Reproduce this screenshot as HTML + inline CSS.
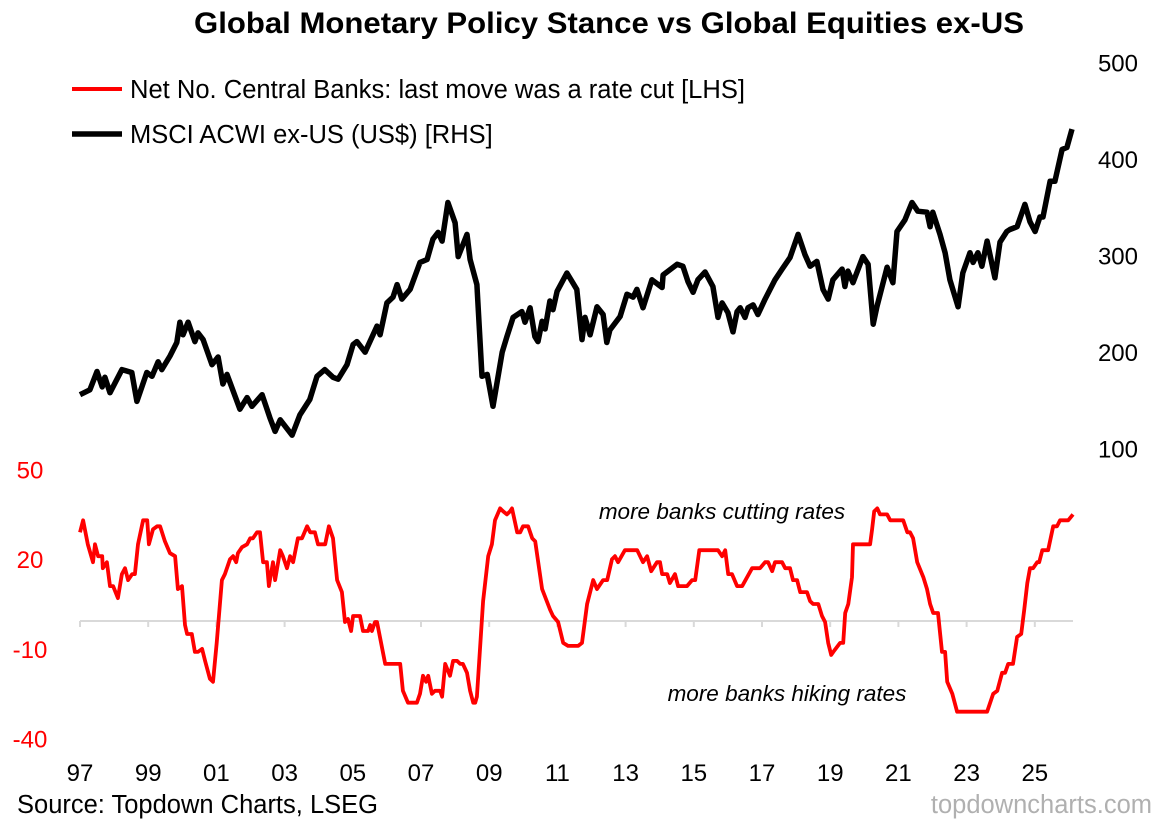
<!DOCTYPE html>
<html><head><meta charset="utf-8">
<style>
html,body{margin:0;padding:0;background:#fff;}
svg{display:block;font-family:"Liberation Sans",Arial,sans-serif;}
</style></head>
<body>
<svg id="chart" width="1170" height="825" viewBox="0 0 1170 825">
<text x="609" y="33" text-anchor="middle" font-size="30" font-weight="bold" textLength="830" lengthAdjust="spacingAndGlyphs">Global Monetary Policy Stance vs Global Equities ex-US</text>
<g>
<line x1="72" y1="89" x2="122" y2="89" stroke="#ff0000" stroke-width="4"/>
<text x="130" y="98" font-size="25.5" textLength="615" lengthAdjust="spacingAndGlyphs">Net No. Central Banks: last move was a rate cut [LHS]</text>
<line x1="72" y1="134" x2="122" y2="134" stroke="#000" stroke-width="5.5"/>
<text x="130" y="143" font-size="25.5">MSCI ACWI ex-US (US$) [RHS]</text>
</g>
<g id="rAxis"></g>
<g id="lAxis"></g>
<g id="xAxis"></g>
<g id="series"></g>
<text x="722" y="519" text-anchor="middle" font-size="22.5" font-style="italic">more banks cutting rates</text>
<text x="787" y="701" text-anchor="middle" font-size="22.5" font-style="italic">more banks hiking rates</text>
<text x="17" y="813" font-size="25.5">Source: Topdown Charts, LSEG</text>
<text x="1152" y="813" text-anchor="end" font-size="25.5" fill="#b0b0b0">topdowncharts.com</text>
</svg>
<script>
const rightTicks=[100,200,300,400,500];
const leftTicks=[-40,-10,20,50];
const xTickYears=[1997,1999,2001,2003,2005,2007,2009,2011,2013,2015,2017,2019,2021,2023,2025];
const xTickLabels=["97","99","01","03","05","07","09","11","13","15","17","19","21","23","25"];
const msciDates=[1997.00,1997.29,1997.50,1997.65,1997.73,1997.88,1998.23,1998.52,1998.67,1998.96,1999.11,1999.29,1999.40,1999.64,1999.84,1999.93,2000.02,2000.17,2000.37,2000.46,2000.61,2000.87,2001.05,2001.19,2001.31,2001.69,2001.90,2002.04,2002.34,2002.57,2002.72,2002.87,2003.22,2003.45,2003.74,2003.95,2004.18,2004.42,2004.57,2004.83,2005.01,2005.12,2005.36,2005.71,2005.80,2006.00,2006.18,2006.30,2006.44,2006.68,2006.97,2007.18,2007.35,2007.50,2007.62,2007.79,2008.00,2008.09,2008.35,2008.44,2008.64,2008.79,2008.94,2009.11,2009.38,2009.52,2009.70,2009.96,2010.05,2010.20,2010.34,2010.43,2010.55,2010.64,2010.78,2010.87,2010.99,2011.28,2011.57,2011.72,2011.81,2011.96,2012.16,2012.34,2012.45,2012.54,2012.84,2013.04,2013.22,2013.33,2013.51,2013.77,2014.07,2014.10,2014.51,2014.68,2014.83,2014.98,2015.12,2015.33,2015.56,2015.71,2015.83,2016.00,2016.15,2016.27,2016.36,2016.50,2016.59,2016.74,2016.88,2017.09,2017.38,2017.59,2017.82,2018.06,2018.26,2018.41,2018.61,2018.79,2018.94,2019.08,2019.35,2019.43,2019.52,2019.67,2019.96,2020.11,2020.26,2020.37,2020.67,2020.84,2020.96,2021.19,2021.40,2021.57,2021.84,2021.93,2022.01,2022.22,2022.37,2022.51,2022.75,2022.89,2023.10,2023.19,2023.33,2023.45,2023.60,2023.83,2023.98,2024.18,2024.27,2024.48,2024.71,2024.86,2025.01,2025.15,2025.24,2025.45,2025.59,2025.80,2025.94,2026.09];
const msciValues=[156,161,180,164,174,158,182,179,149,179,175,190,182,196,210,231,218,231,211,220,213,187,195,167,177,141,153,144,156,132,118,130,114,135,151,175,182,174,172,187,208,211,200,227,218,251,257,270,255,265,293,296,317,324,315,355,334,299,322,296,270,175,177,144,200,216,236,242,231,246,216,211,232,224,253,244,263,282,265,213,236,218,247,239,210,223,237,260,257,265,246,275,267,280,291,289,273,262,275,283,268,236,251,241,221,242,246,236,246,249,239,255,275,286,298,322,301,289,294,265,255,275,286,268,284,272,299,291,229,247,288,272,325,337,355,346,345,330,345,322,303,275,247,282,303,293,303,289,315,277,314,325,327,330,353,335,325,340,340,377,377,410,412,431];
const cbDates=[1997.00,1997.09,1997.23,1997.38,1997.44,1997.53,1997.65,1997.67,1997.79,1997.88,1997.97,1998.11,1998.23,1998.32,1998.41,1998.53,1998.61,1998.70,1998.85,1998.97,1999.02,1999.14,1999.26,1999.35,1999.49,1999.64,1999.79,1999.87,1999.99,2000.08,2000.14,2000.28,2000.37,2000.46,2000.58,2000.67,2000.81,2000.90,2001.01,2001.16,2001.25,2001.40,2001.49,2001.58,2001.63,2001.75,2001.90,2001.99,2002.07,2002.19,2002.28,2002.37,2002.48,2002.54,2002.66,2002.72,2002.87,2002.95,2003.07,2003.16,2003.25,2003.39,2003.51,2003.66,2003.75,2003.89,2003.98,2004.19,2004.30,2004.42,2004.54,2004.68,2004.77,2004.86,2004.95,2005.01,2005.21,2005.30,2005.45,2005.51,2005.56,2005.65,2005.71,2005.95,2006.39,2006.47,2006.62,2006.88,2006.97,2007.06,2007.15,2007.21,2007.32,2007.41,2007.56,2007.62,2007.71,2007.85,2007.94,2008.06,2008.15,2008.23,2008.35,2008.44,2008.53,2008.59,2008.64,2008.82,2008.97,2009.08,2009.17,2009.32,2009.41,2009.52,2009.61,2009.67,2009.82,2009.91,2009.99,2010.14,2010.26,2010.35,2010.55,2010.79,2010.87,2011.02,2011.17,2011.31,2011.61,2011.72,2011.87,2012.05,2012.16,2012.34,2012.46,2012.60,2012.69,2012.78,2012.98,2013.34,2013.51,2013.63,2013.75,2013.92,2014.01,2014.07,2014.22,2014.30,2014.45,2014.54,2014.80,2014.95,2015.04,2015.16,2015.71,2015.83,2015.92,2016.01,2016.12,2016.27,2016.42,2016.71,2016.94,2017.09,2017.18,2017.30,2017.38,2017.59,2017.68,2017.82,2017.91,2018.03,2018.12,2018.32,2018.41,2018.50,2018.65,2018.76,2018.85,2018.94,2019.03,2019.09,2019.29,2019.38,2019.44,2019.53,2019.64,2019.67,2020.17,2020.23,2020.29,2020.38,2020.46,2020.67,2020.76,2021.14,2021.26,2021.34,2021.43,2021.55,2021.73,2021.84,2021.93,2022.02,2022.16,2022.28,2022.37,2022.43,2022.58,2022.72,2023.60,2023.78,2023.90,2024.04,2024.13,2024.22,2024.36,2024.48,2024.60,2024.69,2024.78,2024.86,2024.95,2025.07,2025.13,2025.22,2025.39,2025.54,2025.65,2025.74,2025.98,2026.12];
const cbValues=[29,33,25,19,25,21,21,17,19,11,11,7,15,17,13,15,15,25,33,33,25,30,31,31,26,22,21,10,11,-2,-5,-5,-11,-11,-10,-14,-20,-21,-8,13,15,20,21,19,22,24,25,27,27,29,29,19,19,11,19,13,23,21,17,21,19,27,27,31,29,29,25,25,31,27,13,9,-1,0,-4,1,1,-4,-4,-2,-4,-1,-1,-15,-15,-24,-28,-28,-25,-19,-21,-19,-25,-24,-24,-26,-15,-19,-14,-14,-15,-15,-18,-24,-28,-28,-26,6,21,25,33,37,36,35,36,37,29,29,31,31,27,26,10,3,1,-1,-8,-9,-9,-8,5,13,10,13,13,20,21,19,23,23,19,21,16,19,19,15,15,12,15,11,11,13,13,23,23,21,23,15,15,11,11,17,17,19,19,16,19,19,17,17,13,13,9,9,6,5,5,1,-1,-8,-12,-11,-8,-8,2,5,14,25,25,30,36,37,35,35,33,33,29,29,27,19,14,10,5,2,2,-11,-11,-21,-25,-31,-31,-25,-24,-18,-18,-15,-15,-6,-5,3,12,17,17,19,19,23,23,31,31,33,33,35];

const NS="http://www.w3.org/2000/svg";
function xS(yr){return 80+(yr-1997)*34.1;}
function yR(v){return 62.5+(500-v)*0.9656;}
function yL(v){return 619-v*2.99;}
function mk(tag,attrs,parent){const e=document.createElementNS(NS,tag);for(const k in attrs)e.setAttribute(k,attrs[k]);parent.appendChild(e);return e;}

const rA=document.getElementById('rAxis');
rightTicks.forEach(v=>{
  const t=mk('text',{x:1138,y:yR(v)+9,'text-anchor':'end','font-size':24},rA);
  
  
  t.textContent=v;
});
const lA=document.getElementById('lAxis');
leftTicks.forEach(v=>{
  const t=mk('text',{x:30,y:yL(v)+9,'text-anchor':'middle','font-size':24,fill:'#ff0000'},lA);
  
  
  t.textContent=v;
});
const xA=document.getElementById('xAxis');
const zl=mk('line',{x1:80,y1:621,x2:1073,y2:621,stroke:'#d9d9d9','stroke-width':2},xA);


xTickYears.forEach((yr,i)=>{
  const tk=mk('line',{x1:xS(yr),y1:621,x2:xS(yr),y2:627,stroke:'#d9d9d9','stroke-width':2},xA);
  
  
  const t=mk('text',{x:xS(yr),y:781,'text-anchor':'middle','font-size':24},xA);
  
  
  t.textContent=xTickLabels[i];
});
const S=document.getElementById('series');
const dm=msciDates.map((d,i)=>(i?'L':'M')+xS(d).toFixed(1)+','+yR(msciValues[i]).toFixed(1)).join('');
const pm=mk('path',{d:dm,fill:'none',stroke:'#000','stroke-width':5.5,'stroke-linejoin':'round'},S);


const dc=cbDates.map((d,i)=>(i?'L':'M')+xS(d).toFixed(1)+','+yL(cbValues[i]).toFixed(1)).join('');
const pc=mk('path',{d:dc,fill:'none',stroke:'#ff0000','stroke-width':3.8,'stroke-linejoin':'round'},S);


</script>
</body></html>
